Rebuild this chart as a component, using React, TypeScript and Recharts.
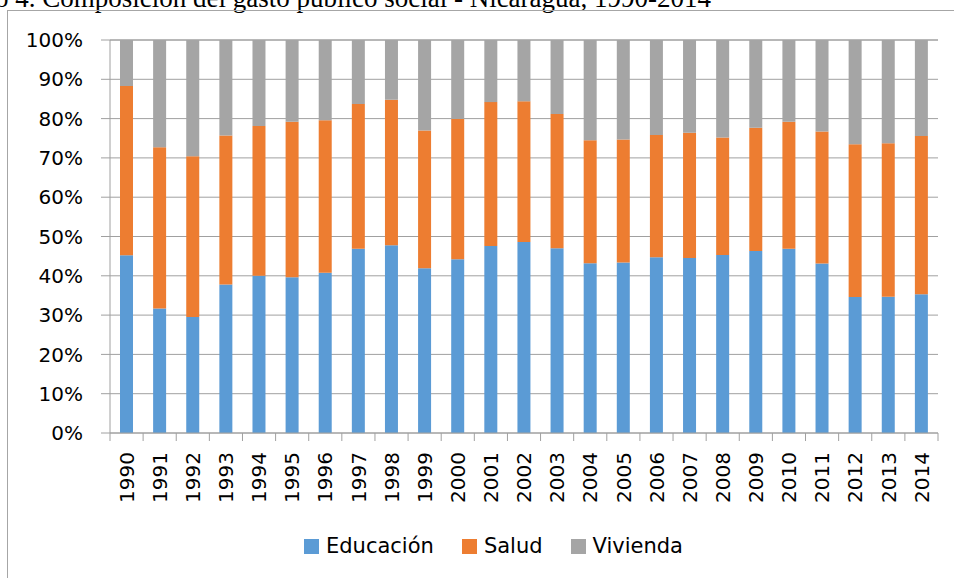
import { BarChart, Bar, XAxis, YAxis, CartesianGrid, Legend } from "recharts";

const years = [
  "1990", "1991", "1992", "1993", "1994", "1995", "1996", "1997", "1998", "1999",
  "2000", "2001", "2002", "2003", "2004", "2005", "2006", "2007", "2008", "2009",
  "2010", "2011", "2012", "2013", "2014",
];

const educacion = [
  45.2, 31.7, 29.5, 37.8, 40.0, 39.6, 40.8, 46.9, 47.8, 41.9,
  44.2, 47.6, 48.6, 47.0, 43.2, 43.4, 44.7, 44.5, 45.3, 46.3,
  46.9, 43.1, 34.6, 34.7, 35.3,
];

const salud = [
  43.1, 41.0, 40.9, 37.9, 38.1, 39.6, 38.8, 36.8, 37.0, 35.1,
  35.7, 36.6, 35.8, 34.2, 31.3, 31.3, 31.1, 31.9, 29.9, 31.4,
  32.3, 33.6, 38.9, 39.0, 40.3,
];

const vivienda = [
  11.7, 27.3, 29.6, 24.3, 21.9, 20.8, 20.4, 16.3, 15.2, 23.0,
  20.1, 15.8, 15.6, 18.8, 25.5, 25.3, 24.2, 23.6, 24.8, 22.3,
  20.8, 23.3, 26.5, 26.3, 24.4,
];

const yTicks = [0, 10, 20, 30, 40, 50, 60, 70, 80, 90, 100];

const data = years.map((year, i) => ({
  year,
  "Educación": educacion[i],
  Salud: salud[i],
  Vivienda: vivienda[i],
}));

const COLORS = {
  edu: "#5B9BD5",
  salud: "#ED7D31",
  viv: "#A5A5A5",
};

const GRID = "#a0a0a0";
const FONT = "'DejaVu Sans', sans-serif";
const TITLE = "Gráfico 4. Composición del gasto público social - Nicaragua, 1990-2014";

// ticks sit between categories in the original, so draw them from the tick itself
const YearTick = (props: any) => {
  const { x, y, payload, index, visibleTicksCount } = props;
  const axisWidth = typeof props.width === "number" && props.width > 100 ? props.width : 828;
  const bw = axisWidth / (visibleTicksCount || years.length);
  const axisY = y - 19;
  return (
    <g>
      <line x1={x - bw / 2} y1={axisY} x2={x - bw / 2} y2={axisY + 8} stroke={GRID} />
      {index === (visibleTicksCount || years.length) - 1 && (
        <line x1={x + bw / 2} y1={axisY} x2={x + bw / 2} y2={axisY + 8} stroke={GRID} />
      )}
      <text
        transform={`translate(${x},${y}) rotate(-90)`}
        textAnchor="end"
        dy="0.36em"
        fontFamily={FONT}
        fontSize={20}
        fill="#000"
      >
        {payload.value}
      </text>
    </g>
  );
};

const LegendContent = ({ payload }: any) => (
  <div style={{ display: "flex", alignItems: "center", fontFamily: FONT, fontSize: 21, color: "#000" }}>
    {(payload || []).map((entry: any) => (
      <div key={entry.value} style={{ display: "flex", alignItems: "center", marginRight: 28, lineHeight: "24px" }}>
        <span style={{ width: 15, height: 15, background: entry.color, display: "inline-block", marginRight: 7 }} />
        <span>{entry.value}</span>
      </div>
    ))}
  </div>
);

const App = () => {
  return (
    <div style={{ position: "absolute", left: 0, top: 0, width: 954, height: 578, overflow: "hidden", background: "#fff" }}>
      <svg width={954} height={20} style={{ position: "absolute", left: 0, top: 0 }}>
        <text x={-74} y={6.5} fontFamily="'Liberation Serif', 'Times New Roman', serif" fontSize={27} fill="#000">
          {TITLE}
        </text>
      </svg>
      <div
        style={{
          position: "absolute",
          left: 7,
          top: 10,
          width: 980,
          height: 620,
          border: "1px solid #a6a6a6",
          boxSizing: "border-box",
        }}
      />
      <div style={{ position: "absolute", left: 0, top: 0 }}>
        <BarChart
          width={954}
          height={578}
          data={data}
          margin={{ top: 40, right: 16, left: 0, bottom: 65 }}
        >
          <CartesianGrid vertical={false} stroke={GRID} strokeWidth={1} />
          <XAxis
            dataKey="year"
            height={80}
            interval={0}
            tick={<YearTick />}
            tickLine={false}
            tickSize={8}
            tickMargin={11}
            axisLine={{ stroke: GRID }}
          />
          <YAxis
            width={110}
            domain={[0, 100]}
            ticks={yTicks}
            interval={0}
            tickFormatter={(v: number) => `${v}%`}
            tickSize={9}
            tickMargin={18}
            tickLine={{ stroke: GRID }}
            axisLine={{ stroke: GRID }}
            tick={{ fontFamily: FONT, fontSize: 20, fill: "#000" }}
          />
          <Legend
            layout="horizontal"
            verticalAlign="middle"
            align="center"
            wrapperStyle={{ left: 304, top: 534, width: 500 }}
            content={<LegendContent />}
          />
          <Bar dataKey="Educación" stackId="a" fill={COLORS.edu} barSize={13} isAnimationActive={false} />
          <Bar dataKey="Salud" stackId="a" fill={COLORS.salud} barSize={13} isAnimationActive={false} />
          <Bar dataKey="Vivienda" stackId="a" fill={COLORS.viv} barSize={13} isAnimationActive={false} />
        </BarChart>
      </div>
    </div>
  );
};

export default App;
